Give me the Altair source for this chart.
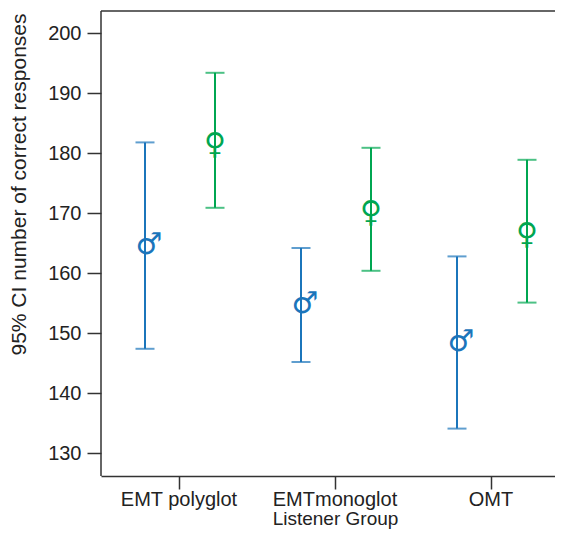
import altair as alt
import pandas as pd

groups = ["EMT polyglot", "EMTmonoglot", "OMT"]
sexes = ["Male", "Female"]
symbols = {"Male": "♂", "Female": "♀"}

male_mean = [164.5, 154.7, 148.3]
male_low = [147.4, 145.2, 134.1]
male_high = [181.8, 164.2, 162.8]
female_mean = [182.1, 170.7, 167.0]
female_low = [170.9, 160.4, 155.1]
female_high = [193.4, 180.9, 178.9]

rows = []
for i, g in enumerate(groups):
    rows.append({"group": g, "sex": "Male", "mean": male_mean[i], "low": male_low[i],
                 "high": male_high[i], "sym": symbols["Male"]})
    rows.append({"group": g, "sex": "Female", "mean": female_mean[i], "low": female_low[i],
                 "high": female_high[i], "sym": symbols["Female"]})
df = pd.DataFrame(rows)

W, H = 454, 465
FONT = "Liberation Sans"
FRAME = "#333333"

x_scale = alt.Scale(range=[0, 468], paddingInner=0, paddingOuter=0)
x_axis = alt.Axis(title="Listener Group", labelAngle=0, tickSize=13,
                  labelPadding=0, titlePadding=0, titleFontSize=19)
x_enc = alt.X("group:N", sort=groups, scale=x_scale, axis=x_axis)
xo_enc = alt.XOffset("sex:N", sort=sexes,
                     scale=alt.Scale(type="point", range=[44, 114], padding=0))
y_scale = alt.Scale(domain=[126.2, 203.7], nice=False, zero=False)
y_axis = alt.Axis(title="95% CI number of correct responses",
                  values=[130, 140, 150, 160, 170, 180, 190, 200],
                  tickSize=14, labelPadding=6, titlePadding=18,
                  titleFontSize=21, titleY=173, domain=False)
color_enc = alt.Color("sex:N", scale=alt.Scale(domain=sexes, range=["#1b75bb", "#00a651"]),
                      legend=None)


def yq(field):
    return alt.Y(field, type="quantitative", scale=y_scale, axis=y_axis,
                 title="95% CI number of correct responses")


base = alt.Chart(df).encode(x=x_enc, xOffset=xo_enc, color=color_enc)

bars = base.mark_rule(strokeWidth=2).encode(y=yq("low"), y2="high:Q")
cap_low = base.mark_tick(orient="horizontal", size=19, thickness=2).encode(y=yq("low"))
cap_high = base.mark_tick(orient="horizontal", size=19, thickness=2).encode(y=yq("high"))
male_txt = base.transform_filter(alt.datum.sex == "Male").mark_text(
    font="DejaVu Sans", fontSize=30, fontWeight="bold", dx=4, dy=-1,
    align="center", baseline="middle").encode(y=yq("mean"), text="sym:N")
female_txt = base.transform_filter(alt.datum.sex == "Female").mark_text(
    font="DejaVu Sans", fontSize=30, fontWeight="bold", dx=0, dy=4,
    align="center", baseline="middle").encode(y=yq("mean"), text="sym:N")

frame_df = pd.DataFrame({"k": [0]})
top_line = alt.Chart(frame_df).mark_rule(color=FRAME, strokeWidth=1.5).encode(
    x=alt.value(0), x2=alt.value(W), y=alt.value(0))
left_line = alt.Chart(frame_df).mark_rule(color=FRAME, strokeWidth=1.5).encode(
    x=alt.value(0), y=alt.value(0), y2=alt.value(H))

chart = alt.layer(bars, cap_low, cap_high, male_txt, female_txt, top_line, left_line).properties(
    width=W, height=H,
    autosize=alt.AutoSizeParams(type="none"),
    padding={"left": 93, "top": 3, "right": 0, "bottom": 53},
).configure_view(strokeWidth=0, stroke="transparent").configure_axis(
    grid=False, domainColor=FRAME, domainWidth=1.5, tickColor=FRAME, tickWidth=1.5,
    labelColor="#222222", titleColor="#222222", labelFont=FONT, titleFont=FONT,
    labelFontSize=20, titleFontSize=20, titleFontWeight="normal",
)

chart.save("out.html", embed_options={"renderer": "svg", "actions": False})
